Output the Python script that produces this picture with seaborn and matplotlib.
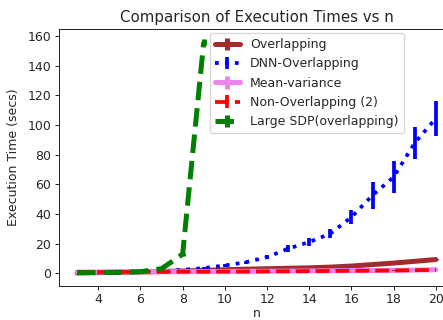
import numpy as np
import pandas as pd
import matplotlib
matplotlib.use("Agg")
import matplotlib.pyplot as plt
import seaborn as sns
from matplotlib.container import ErrorbarContainer

n_all = [3, 4, 5, 6, 7, 8, 9, 10, 11, 12, 13, 14, 15, 16, 17, 18, 19, 20]
overlap = [0.4, 0.6, 0.8, 1.0, 1.3, 1.7, 2.1, 2.5, 2.9, 3.2, 3.5, 3.8, 4.3, 5.0, 6.0, 7.0, 8.2, 9.4]
overlap_err = [0.1] * 18
dnn = [0.3, 0.5, 0.7, 1.0, 1.5, 2.5, 3.6, 5.4, 7.6, 11.0, 16.7, 21.2, 26.8, 38.0, 52.7, 65.0, 88.0, 104.5]
dnn_err = [0.05, 0.1, 0.1, 0.2, 0.3, 0.4, 0.6, 0.8, 1.0, 1.2, 2.5, 2.5, 3.0, 4.7, 9.0, 11.0, 10.7, 12.0]
meanvar = [1.0, 1.0, 1.1, 1.1, 1.2, 1.2, 1.3, 1.3, 1.4, 1.5, 1.6, 1.7, 1.8, 1.9, 2.0, 2.1, 2.3, 2.5]
meanvar_err = [0.1] * 18
nonover = [0.9, 1.0, 1.0, 1.1, 1.1, 1.2, 1.2, 1.3, 1.3, 1.4, 1.5, 1.6, 1.7, 1.8, 1.9, 2.0, 2.2, 2.4]
nonover_err = [0.1] * 18
n_sdp = [3, 4, 5, 6, 7, 8, 9]
sdp = [0.5, 0.6, 0.8, 1.2, 3.2, 13.0, 156.0]
sdp_err = [0.05, 0.05, 0.1, 0.1, 0.3, 1.0, 2.0]

labels = ["Overlapping", "DNN-Overlapping", "Mean-variance", "Non-Overlapping (2)", "Large SDP(overlapping)"]

series = [
    (n_all, overlap, overlap_err, "brown", "-", 4),
    (n_all, dnn, dnn_err, "blue", ":", 3),
    (n_all, meanvar, meanvar_err, "violet", "-", 4),
    (n_all, nonover, nonover_err, "red", "--", 3),
    (n_sdp, sdp, sdp_err, "green", "--", 4),
]

sns.set_style("ticks")
plt.rcParams['font.family'] = ['DejaVu Sans']

DPI = 90
fig = plt.figure(figsize=(443 / DPI, 320 / DPI), dpi=DPI)
ax = fig.add_axes([59 / 443, 1 - 285.5 / 320, (454 - 59) / 443, (285.5 - 29.3) / 320])

handles = []
for (xs, ys, es, col, ls, lw), lab in zip(series, labels):
    df = pd.DataFrame({"n": xs, "t": ys})
    sns.lineplot(data=df, x="n", y="t", ax=ax, color=col, linestyle=ls, linewidth=lw,
                 errorbar=None, legend=False)
    line = ax.lines[-1]
    eb = ax.errorbar(xs, ys, yerr=es, fmt="none", ecolor=col, elinewidth=lw)
    barcol = eb.lines[2][0]
    cont = ErrorbarContainer((line, (), (barcol,)), has_yerr=True, label=lab)
    handles.append(cont)

ax.set_xlim(2.14, 20.86)
ax.set_ylim(-8.1, 164.5)
ax.set_xticks([4, 6, 8, 10, 12, 14, 16, 18, 20])
ax.set_yticks([0, 20, 40, 60, 80, 100, 120, 140, 160])
ax.set_xlabel("n", fontsize=10, color="#262626", labelpad=1)
ax.set_ylabel("Execution Time (secs)", fontsize=10, color="#262626", labelpad=6)
ax.set_title("Comparison of Execution Times vs n", fontsize=12)
ax.tick_params(labelsize=10, pad=2.5)
for s in ax.spines.values():
    s.set_color("#262626")

ax.legend(handles=handles, labels=labels, loc="upper left", borderaxespad=0,
          bbox_to_anchor=(151 / 395, 0.985), fontsize=10, frameon=True)

fig.savefig("out.png", dpi=DPI)
